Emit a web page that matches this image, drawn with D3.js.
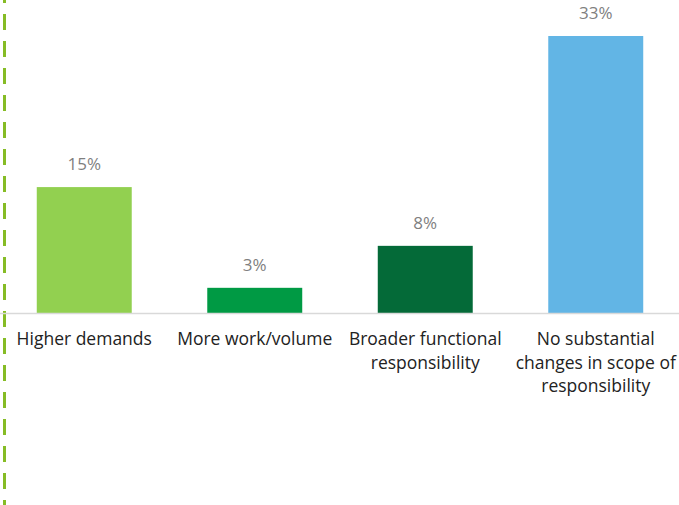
<!DOCTYPE html>
<html>
<head>
<meta charset="utf-8">
<script src="https://cdn.jsdelivr.net/npm/d3@7"></script>
<style>
  html, body { margin: 0; padding: 0; background: #fff; }
  svg { display: block; }
</style>
</head>
<body>
<svg id="chart" width="679" height="505"></svg>
<script>
const categories = ["Higher demands", "More work/volume", "Broader functional responsibility", "No substantial changes in scope of responsibility"];
const categoryLines = [
  ["Higher demands"],
  ["More work/volume"],
  ["Broader functional", "responsibility"],
  ["No substantial", "changes in scope of", "responsibility"]
];
const values = [15, 3, 8, 33];
const valueLabels = ["15%", "3%", "8%", "33%"];
const barColors = ["#92d050", "#009a44", "#046a38", "#62b5e5"];

const svg = d3.select("#chart");
const W = 679, H = 505;
const baseline = 313;

const x = d3.scaleBand().domain(categories).range([-1, 681]).paddingInner(0.443).paddingOuter(0.2215);
const y = d3.scaleLinear().domain([0, 33]).range([baseline, 36]);

// left dashed decoration
svg.append("line")
  .attr("x1", 4.5).attr("x2", 4.5)
  .attr("y1", -13).attr("y2", H)
  .attr("stroke", "#86bc25").attr("stroke-width", 3)
  .attr("stroke-dasharray", "16 11");

// bars
svg.selectAll("rect.bar")
  .data(categories)
  .join("rect")
  .attr("class", "bar")
  .attr("x", d => x(d))
  .attr("width", x.bandwidth())
  .attr("y", (d, i) => y(values[i]))
  .attr("height", (d, i) => baseline - y(values[i]))
  .attr("fill", (d, i) => barColors[i]);

// axis baseline
svg.append("line")
  .attr("x1", 0).attr("x2", W)
  .attr("y1", baseline + 0.5).attr("y2", baseline + 0.5)
  .attr("stroke", "#d9d9d9").attr("stroke-width", 1.5);

// value labels
svg.selectAll("text.val")
  .data(categories)
  .join("text")
  .attr("class", "val")
  .attr("x", d => x(d) + x.bandwidth() / 2)
  .attr("y", (d, i) => y(values[i]) - 17)
  .attr("text-anchor", "middle")
  .attr("font-family", "'Open Sans', sans-serif")
  .attr("font-size", 17)
  .attr("fill", "#7f7f7f")
  .text((d, i) => valueLabels[i]);

// category labels
const cat = svg.selectAll("text.cat")
  .data(categories)
  .join("text")
  .attr("class", "cat")
  .attr("text-anchor", "middle")
  .attr("font-family", "'Open Sans', sans-serif")
  .attr("font-size", 17.5)
  .attr("fill", "#222");
cat.each(function(d, i) {
  const t = d3.select(this);
  categoryLines[i].forEach((line, j) => {
    t.append("tspan")
      .attr("x", x(d) + x.bandwidth() / 2)
      .attr("y", 345 + j * 23.5)
      .text(line);
  });
});
</script>
</body>
</html>
